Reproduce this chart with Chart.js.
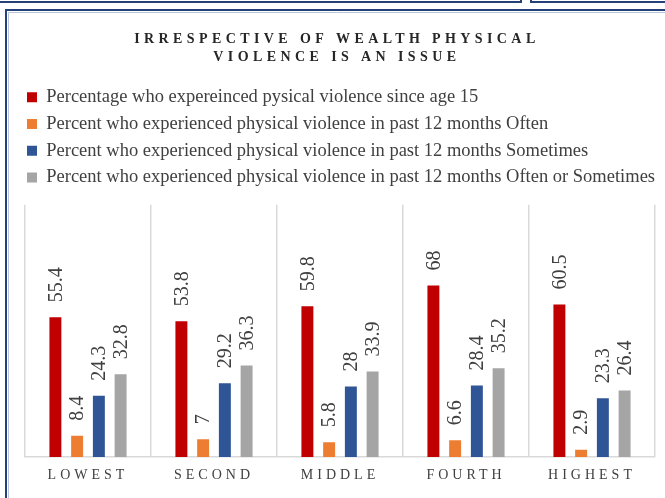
<!DOCTYPE html>
<html>
<head>
<meta charset="utf-8">
<script src="https://cdn.jsdelivr.net/npm/chart.js@4"></script>
<style>
  html, body { margin: 0; padding: 0; background: #fff; }
  #wrap { width: 665px; height: 498px; }
</style>
</head>
<body>
<div id="wrap"><canvas id="chart" width="665" height="498"></canvas></div>
<script>
const categories = ["LOWEST", "SECOND", "MIDDLE", "FOURTH", "HIGHEST"];
const seriesNames = [
  "Percentage who expereinced pysical violence since age 15",
  "Percent who experienced physical violence in past 12 months Often",
  "Percent who experienced physical violence in past 12 months Sometimes",
  "Percent who experienced physical violence in past 12 months Often or Sometimes"
];
const sinceAge15 = [55.4, 53.8, 59.8, 68, 60.5];
const often = [8.4, 7, 5.8, 6.6, 2.9];
const sometimes = [24.3, 29.2, 28, 28.4, 23.3];
const oftenOrSometimes = [32.8, 36.3, 33.9, 35.2, 26.4];
const colors = ["#C00000", "#ED7D31", "#2F5597", "#A5A5A5"];
const titleLines = ["IRRESPECTIVE OF WEALTH PHYSICAL", "VIOLENCE IS AN ISSUE"];

const serif = "'Liberation Serif', 'Times New Roman', serif";
const textColor = "#404040";

// page frame (borders of the surrounding boxes)
const framePlugin = {
  id: "frame",
  beforeDraw(chart) {
    const ctx = chart.ctx;
    ctx.save();
    ctx.fillStyle = "#fff";
    ctx.fillRect(0, 0, chart.width, chart.height);
    ctx.strokeStyle = "#24407a";
    ctx.lineWidth = 2;
    ctx.beginPath();
    ctx.moveTo(0, 2); ctx.lineTo(521, 2); ctx.lineTo(521, 0);
    ctx.moveTo(531, 0); ctx.lineTo(531, 2); ctx.lineTo(665, 2);
    ctx.moveTo(6, 498); ctx.lineTo(6, 10); ctx.lineTo(665, 10);
    ctx.stroke();
    ctx.strokeStyle = "#b8c4da";
    ctx.lineWidth = 1;
    ctx.beginPath();
    ctx.moveTo(8.5, 498); ctx.lineTo(8.5, 12.5); ctx.lineTo(665, 12.5);
    ctx.stroke();
    ctx.restore();
  }
};

// letter spaced title and category labels
const spacingPlugin = {
  id: "spacing",
  beforeDraw(chart) {
    const t = chart.titleBlock;
    if (t && !t._spaced) {
      const d = t.draw.bind(t);
      t.draw = function (a) {
        chart.ctx.save(); chart.ctx.letterSpacing = "4.4px"; d(a); chart.ctx.restore();
      };
      t._spaced = true;
    }
    const x = chart.scales.x;
    if (x && !x._spaced) {
      const d = x.drawLabels.bind(x);
      x.drawLabels = function (a) {
        chart.ctx.save(); chart.ctx.letterSpacing = "4px"; d(a); chart.ctx.restore();
      };
      x._spaced = true;
    }
  }
};

// rotated value labels above the bars
const valueLabels = {
  id: "valueLabels",
  afterDatasetsDraw(chart) {
    const ctx = chart.ctx;
    ctx.save();
    ctx.font = "20px " + serif;
    ctx.fillStyle = textColor;
    ctx.textAlign = "left";
    ctx.textBaseline = "middle";
    chart.data.datasets.forEach((ds, i) => {
      chart.getDatasetMeta(i).data.forEach((bar, j) => {
        ctx.save();
        ctx.translate(bar.x + 1, bar.y - 15);
        ctx.rotate(-Math.PI / 2);
        ctx.fillText(String(ds.data[j]), 0, 0);
        ctx.restore();
      });
    });
    ctx.restore();
  }
};

const allSeries = [sinceAge15, often, sometimes, oftenOrSometimes];

new Chart(document.getElementById("chart"), {
  type: "bar",
  data: {
    labels: categories,
    datasets: allSeries.map((vals, i) => ({
      label: seriesNames[i],
      data: vals,
      backgroundColor: colors[i],
      borderWidth: 0,
      categoryPercentage: 0.69,
      barPercentage: 0.55
    }))
  },
  options: {
    responsive: false,
    animation: false,
    layout: { padding: { left: 18.8, right: 10, top: 0, bottom: 0 } },
    plugins: {
      title: {
        display: true,
        text: titleLines,
        color: "#262626",
        font: { family: serif, size: 14, weight: "bold", lineHeight: 1.286 },
        padding: { top: 30.5, bottom: 13.35 }
      },
      legend: {
        position: "top",
        align: "start",
        labels: {
          boxWidth: 10,
          boxHeight: 10,
          padding: 8.2,
          color: textColor,
          font: { family: serif, size: 18.5 }
        }
      },
      tooltip: { enabled: false }
    },
    scales: {
      x: {
        grid: { display: true, offset: true, color: "#d9d9d9", lineWidth: 1.5, drawTicks: false },
        border: { display: true, color: "#d9d9d9", width: 1.5 },
        ticks: { color: textColor, padding: 10, font: { family: serif, size: 14 } },
        afterFit(s) { s.height = 41; }
      },
      gap: {
        type: "category",
        position: "top",
        grid: { display: false },
        border: { display: false },
        ticks: { display: false },
        afterFit(s) { s.height = 8.15; }
      },
      y: {
        min: 0,
        max: 100,
        grid: { display: false },
        border: { display: false },
        ticks: { display: false },
        afterFit(s) { s.width = 6.2; }
      }
    }
  },
  plugins: [framePlugin, spacingPlugin, valueLabels]
});
</script>
</body>
</html>
